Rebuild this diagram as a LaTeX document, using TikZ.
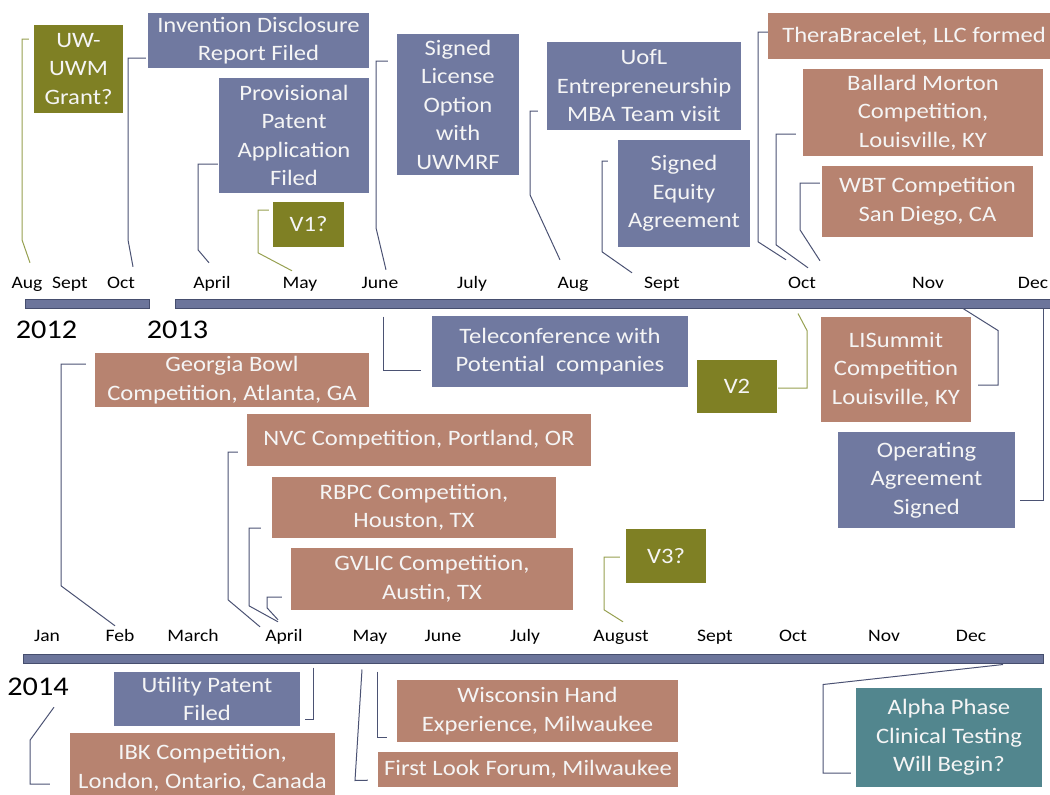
\documentclass[tikz,border=0pt]{standalone}
\usepackage{fontspec}
\setmainfont{Carlito}[FakeStretch=1.12]
\definecolor{boxblue}{RGB}{112,121,160}
\definecolor{boxbrown}{RGB}{183,131,112}
\definecolor{boxolive}{RGB}{127,128,36}
\definecolor{boxteal}{RGB}{82,134,142}
\definecolor{barblue}{RGB}{108,117,155}
\definecolor{bardark}{RGB}{70,78,110}
\definecolor{lineblue}{RGB}{75,82,115}
\definecolor{lineolive}{RGB}{150,160,80}
\begin{document}
\begin{tikzpicture}[x=1pt,y=-1pt,
    box/.style={inner sep=0pt, align=center, text=white!96!black,
        font=\fontsize{22}{28.5}\selectfont},
    bluebox/.style={box, fill=boxblue},
    brownbox/.style={box, fill=boxbrown},
    olivebox/.style={box, fill=boxolive},
    tealbox/.style={box, fill=boxteal},
    bar/.style={fill=barblue, draw=bardark, line width=1pt, inner sep=0pt},
    month/.style={anchor=base, inner sep=0pt, text height=12pt, text depth=4pt,
        font=\fontsize{17.5}{20}\selectfont},
    year/.style={anchor=base, inner sep=0pt, text height=19pt, text depth=4pt,
        font=\fontsize{27}{30}\selectfont},
    bline/.style={draw=lineblue, line width=1pt},
    oline/.style={draw=lineolive, line width=1pt}]
    \useasboundingbox (0,0) rectangle (1050,795);

    % timeline bars
    \node[bar, minimum width=124pt, minimum height=9pt] (bar12) at (87,303.5) {};
    \node[bar, minimum width=885pt, minimum height=9pt] (bar13) at (617.5,303.5) {};
    \node[bar, minimum width=1020pt, minimum height=9pt] (bar14) at (533,658.5) {};

    % years
    \node[year] (y2012) at (46.5,338) {2012};
    \node[year] (y2013) at (177.5,338) {2013};
    \node[year] (y2014) at (38,695) {2014};

    % months 2012/2013
    \node[month] (aug12) at (27,288) {Aug};
    \node[month] (sep12) at (70,288) {Sept};
    \node[month] (oct12) at (121,288) {Oct};
    \node[month] (apr13) at (212,288) {April};
    \node[month] (may13) at (300,288) {May};
    \node[month] (jun13) at (380,288) {June};
    \node[month] (jul13) at (472,288) {July};
    \node[month] (aug13) at (573,288) {Aug};
    \node[month] (sep13) at (662,288) {Sept};
    \node[month] (oct13) at (802,288) {Oct};
    \node[month] (nov13) at (928,288) {Nov};
    \node[month] (dec13) at (1033,288) {Dec};

    % months 2014
    \node[month] (jan14) at (47,641) {Jan};
    \node[month] (feb14) at (120,641) {Feb};
    \node[month] (mar14) at (193,641) {March};
    \node[month] (apr14) at (284,641) {April};
    \node[month] (may14) at (370,641) {May};
    \node[month] (jun14) at (443,641) {June};
    \node[month] (jul14) at (525,641) {July};
    \node[month] (aug14) at (621,641) {August};
    \node[month] (sep14) at (715,641) {Sept};
    \node[month] (oct14) at (793,641) {Oct};
    \node[month] (nov14) at (884,641) {Nov};
    \node[month] (dec14) at (971,641) {Dec};

    % events above 2013
    \node[olivebox, minimum width=89pt, minimum height=88pt] (grant) at (78.5,69) {UW-\\UWM\\Grant?};
    \node[bluebox, minimum width=221pt, minimum height=55pt] (disclosure) at (258.5,40.5) {Invention Disclosure\\Report Filed};
    \node[bluebox, minimum width=150pt, minimum height=115pt] (provisional) at (294,135.5) {Provisional\\Patent\\Application\\Filed};
    \node[olivebox, minimum width=71pt, minimum height=45pt] (v1) at (308.5,224.5) {V1?};
    \node[bluebox, minimum width=122pt, minimum height=141pt] (license) at (458,104.5) {Signed\\License\\Option\\with\\UWMRF};
    \node[bluebox, minimum width=194pt, minimum height=88pt] (uofl) at (644,86) {UofL\\Entrepreneurship\\MBA Team visit};
    \node[bluebox, minimum width=132pt, minimum height=107pt] (equity) at (684,193.5) {Signed\\Equity\\Agreement};
    \node[brownbox, minimum width=292pt, minimum height=46pt] (thera) at (914,36) {TheraBracelet, LLC formed};
    \node[brownbox, minimum width=240pt, minimum height=87pt] (ballard) at (923,112.5) {Ballard Morton\\Competition,\\Louisville, KY};
    \node[brownbox, minimum width=211pt, minimum height=71pt] (wbt) at (927.5,201.5) {WBT Competition\\San Diego, CA};

    % events below 2013
    \node[bluebox, minimum width=256pt, minimum height=71pt] (telecon) at (560,351.5) {Teleconference with\\Potential~ companies};
    \node[olivebox, minimum width=80pt, minimum height=53pt] (v2) at (737,386.5) {V2};
    \node[brownbox, minimum width=150pt, minimum height=105pt] (lisummit) at (896,369.5) {LISummit\\Competition\\Louisville, KY};
    \node[bluebox, minimum width=177pt, minimum height=96pt] (operating) at (926.5,480) {Operating\\Agreement\\Signed};

    % events above 2014
    \node[brownbox, minimum width=274pt, minimum height=54pt] (georgia) at (232,380) {Georgia Bowl\\Competition, Atlanta, GA};
    \node[brownbox, minimum width=344pt, minimum height=52pt] (nvc) at (419,440) {NVC Competition, Portland, OR};
    \node[brownbox, minimum width=284pt, minimum height=61pt] (rbpc) at (414,507.5) {RBPC Competition,\\Houston, TX};
    \node[brownbox, minimum width=282pt, minimum height=62pt] (gvlic) at (432,579) {GVLIC Competition,\\Austin, TX};
    \node[olivebox, minimum width=80pt, minimum height=54pt] (v3) at (666,556) {V3?};

    % events below 2014
    \node[bluebox, minimum width=186pt, minimum height=54pt] (utility) at (207,699) {Utility Patent\\Filed};
    \node[brownbox, minimum width=265pt, minimum height=70pt] (ibk) at (202.5,768) {IBK Competition,\\London, Ontario, Canada};
    \node[brownbox, minimum width=281pt, minimum height=62pt] (wisconsin) at (537.5,711) {Wisconsin Hand\\Experience, Milwaukee};
    \node[brownbox, minimum width=300pt, minimum height=35pt] (firstlook) at (528,769.5) {First Look Forum, Milwaukee};
    \node[tealbox, minimum width=186pt, minimum height=99pt] (alpha) at (949,737.5) {Alpha Phase\\Clinical Testing\\Will Begin?};

    % connectors 2012/2013 (up)
    \draw[oline, shorten >=5pt] (aug12.north) ++(3,-13) -- ++(-8,-23) |- (grant.west |- 0,39);
    \draw[bline, shorten >=2pt] (oct12.north) ++(12,-9) -- ++(-5,-27) |- (disclosure.west |- 0,58);
    \draw[bline, shorten >=1pt] (apr13.north) ++(-3,-13) -- ++(-11,-13) |- (provisional.west |- 0,164);
    \draw[oline, shorten >=4pt] (may13.north) ++(-8,-5) -- ++(-34,-18) |- (v1.west |- 0,210);
    \draw[bline, shorten >=9pt] (jun13.north) ++(6,-6) -- ++(-10,-42) |- (license.west |- 0,61);
    \draw[bline, shorten >=9pt] (aug13.north) ++(-13,-16) -- ++(-30,-65) |- (uofl.west |- 0,111);
    \draw[bline, shorten >=10pt] (sep13.north) ++(-30,-3) -- ++(-30,-21) |- (equity.west |- 0,161);
    \draw[bline] (oct13.north) ++(-16,-16) -- ++(-28,-18) |- (thera.west |- 0,32);
    \draw[bline, shorten >=7pt] (oct13.north) ++(6,-8) -- ++(-32,-23) |- (ballard.west |- 0,134);
    \draw[bline, shorten >=2pt] (oct13.north) ++(18,-15) -- ++(-20,-31) |- (wbt.west |- 0,183);

    % connectors 2013 (down)
    \draw[bline, shorten >=11pt] (bar13.south -| 383,0) ++(0,8) |- (telecon.west |- 0,370);
    \draw[oline, shorten >=1pt] (bar13.south -| 798,0) ++(0,5) -- ++(9,17) |- (v2.east |- 0,388);
    \draw[bline, shorten >=7pt] (bar13.south -| 963,0) -- ++(35,22) |- (lisummit.east |- 0,385);
    \draw[bline, shorten >=5pt] (bar13.south -| 1043,0) |- (operating.east |- 0,500);

    % connectors 2014 (up)
    \draw[bline, shorten >=9pt] (feb14.north) ++(-5,-3) -- ++(-54,-40) |- (georgia.west |- 0,364);
    \draw[bline, shorten >=9pt] (apr14.north) ++(-24,-2) -- ++(-32,-27) |- (nvc.west |- 0,452);
    \draw[bline, shorten >=11pt] (apr14.north) ++(-6,-7) -- ++(-29,-16) |- (rbpc.west |- 0,528);
    \draw[bline, shorten >=9pt] (apr14.north) ++(-6,-9) -- ++(-11,-12) |- (gvlic.west |- 0,597);
    \draw[oline, shorten >=6pt] (aug14.north) ++(2,-7) -- ++(-19,-12) |- (v3.west |- 0,557);

    % connectors 2014 (down)
    \draw[bline, shorten >=5pt] (bar14.south -| 313,0) ++(0,4) |- (utility.east |- 0,719);
    \draw[bline, shorten >=20pt] (y2014.south) ++(16,8) -- ++(-24,33) |- (ibk.west |- 0,784);
    \draw[bline, shorten >=10pt] (bar14.south -| 377,0) ++(0,8) |- (wisconsin.west |- 0,737);
    \draw[bline, shorten >=10pt] (bar14.south -| 362,0) ++(0,6) -- ++(-7,111) -- (firstlook.west |- 0,780);
    \draw[bline, shorten >=5pt] (bar14.south -| 1003,0) ++(0,1) -- ++(-180,20) |- (alpha.west |- 0,773);
\end{tikzpicture}
\end{document}
